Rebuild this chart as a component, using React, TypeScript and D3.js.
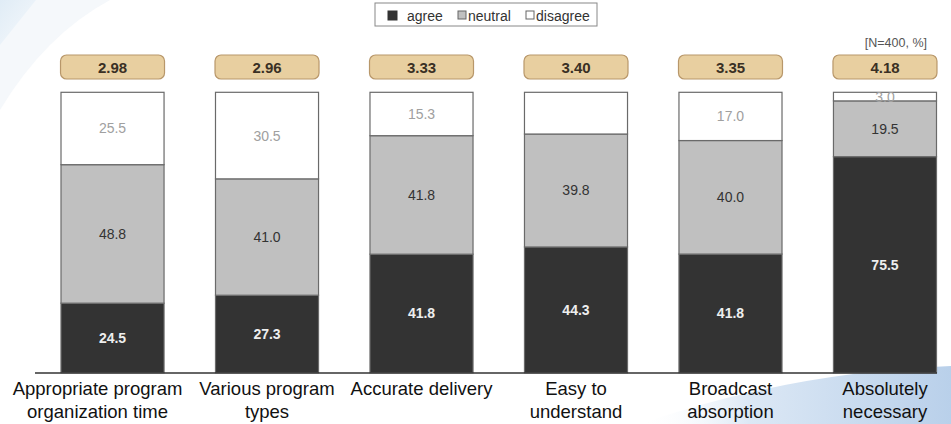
import React from "react";
import * as d3 from "d3";

const categories = [
  "Appropriate program|organization time",
  "Various program|types",
  "Accurate delivery",
  "Easy to|understand",
  "Broadcast|absorption",
  "Absolutely|necessary",
];
const agree = [24.5, 27.3, 41.8, 44.3, 41.8, 75.5];
const neutral = [48.8, 41.0, 41.8, 39.8, 40.0, 19.5];
const disagree = [25.5, 30.5, 15.3, 14.7, 17.0, 3.0];
const disagreeShown = [true, true, true, false, true, true];
const meanScores = ["2.98", "2.96", "3.33", "3.40", "3.35", "4.18"];
const seriesKeys = ["agree", "neutral", "disagree"];
const seriesLabels = ["agree", "neutral", "disagree"];

const W = 951;
const H = 424;
const FONT = "'Liberation Sans', Arial, sans-serif";

export default function App() {
  const rows = categories.map((c, i) => ({
    cat: c,
    agree: agree[i],
    neutral: neutral[i],
    disagree: disagree[i],
  }));
  const stack = d3.stack<any>().keys(seriesKeys).offset(d3.stackOffsetExpand);
  const series = stack(rows);

  const x = d3
    .scaleBand<string>()
    .domain(categories)
    .range([61, 936.5])
    .paddingInner(0.333)
    .paddingOuter(0);
  const y = d3.scaleLinear().domain([0, 1]).range([372.7, 92.3]);

  const fills: Record<string, string> = {
    agree: "#333333",
    neutral: "#c0c0c0",
    disagree: "#ffffff",
  };
  const labelStyle: Record<string, any> = {
    agree: { fill: "#eeeeee", fontWeight: "bold" },
    neutral: { fill: "#333333", fontWeight: "normal" },
    disagree: { fill: "#a0a0a0", fontWeight: "normal" },
  };
  const raw: Record<string, number[]> = { agree, neutral, disagree };

  const bw = x.bandwidth();

  return (
    <svg
      width={W}
      height={H}
      style={{ position: "absolute", left: 0, top: 0, background: "#fff" }}
      fontFamily={FONT}
    >
      <defs>
        <linearGradient id="swoosh" x1="0" y1="0" x2="1" y2="0">
          <stop offset="0" stopColor="#ffffff" stopOpacity="0" />
          <stop offset="0.35" stopColor="#dce8f5" />
          <stop offset="1" stopColor="#b9d0ea" />
        </linearGradient>
        <linearGradient id="corner" x1="0" y1="0" x2="1" y2="1">
          <stop offset="0" stopColor="#e0ecf6" />
          <stop offset="1" stopColor="#f6f9fc" />
        </linearGradient>
      </defs>
      {/* background decorations */}
      <path d="M0 0 L110 0 Q45 35 0 110 Z" fill="#f5f8fb" />
      <path d="M0 0 L36 0 L0 45 Z" fill="url(#corner)" />
      <path d="M640 424 Q790 372 951 366 L951 424 Z" fill="url(#swoosh)" />

      {/* legend */}
      <rect x={375} y={3} width={222} height={23} fill="#fff" stroke="#888" strokeWidth={1} />
      {seriesKeys.map((k, i) => {
        const xs = [388, 458, 526][i];
        const tx = [407, 468, 536][i];
        return (
          <g key={k}>
            <rect
              x={xs}
              y={11}
              width={k === "agree" ? 9 : 8}
              height={k === "agree" ? 9 : 8}
              fill={fills[k]}
              stroke={k === "agree" ? "#333" : "#666"}
              strokeWidth={1}
            />
            <text x={tx} y={21} fontSize={14} fill="#333">
              {seriesLabels[i]}
            </text>
          </g>
        );
      })}

      <text x={927} y={47} fontSize={12.5} fill="#555" textAnchor="end">
        [N=400, %]
      </text>

      {/* badges */}
      {categories.map((c, i) => (
        <g key={"b" + i}>
          <rect
            x={(x(c) as number) + bw / 2 - 52}
            y={55}
            width={104}
            height={24}
            rx={6}
            fill="#e8cfa0"
            stroke="#b8976a"
            strokeWidth={1.2}
          />
          <text
            x={(x(c) as number) + bw / 2}
            y={72.5}
            textAnchor="middle"
            fontSize={15}
            fontWeight="bold"
            fill="#3a3024"
          >
            {meanScores[i]}
          </text>
        </g>
      ))}

      {/* bars */}
      {series.map((s) =>
        s.map((d, i) => (
          <rect
            key={s.key + i}
            x={x(categories[i]) as number}
            y={y(d[1])}
            width={bw}
            height={y(d[0]) - y(d[1])}
            fill={fills[s.key]}
            stroke="#6a6a6a"
            strokeWidth={1.2}
          />
        ))
      )}

      {/* value labels */}
      {series.map((s) =>
        s.map((d, i) => {
          if (s.key === "disagree" && !disagreeShown[i]) return null;
          const cy = (y(d[0]) + y(d[1])) / 2;
          const st = labelStyle[s.key];
          return (
            <text
              key={"l" + s.key + i}
              x={(x(categories[i]) as number) + bw / 2}
              y={cy + 5}
              textAnchor="middle"
              fontSize={14}
              fill={st.fill}
              fontWeight={st.fontWeight}
            >
              {raw[s.key][i].toFixed(1)}
            </text>
          );
        })
      )}

      {/* axis baseline */}
      <line x1={35} x2={937} y1={373} y2={373} stroke="#333" strokeWidth={1.5} />

      {/* category labels */}
      {categories.map((c, i) => {
        const lines = c.split("|");
        const cx = (x(c) as number) + bw / 2 + (i === 0 ? -15 : 0);
        return (
          <text key={"c" + i} x={cx} textAnchor="middle" fontSize={18.5} fill="#111">
            {lines.map((ln, j) => (
              <tspan key={j} x={cx} y={395 + j * 23}>
                {ln}
              </tspan>
            ))}
          </text>
        );
      })}
    </svg>
  );
}
